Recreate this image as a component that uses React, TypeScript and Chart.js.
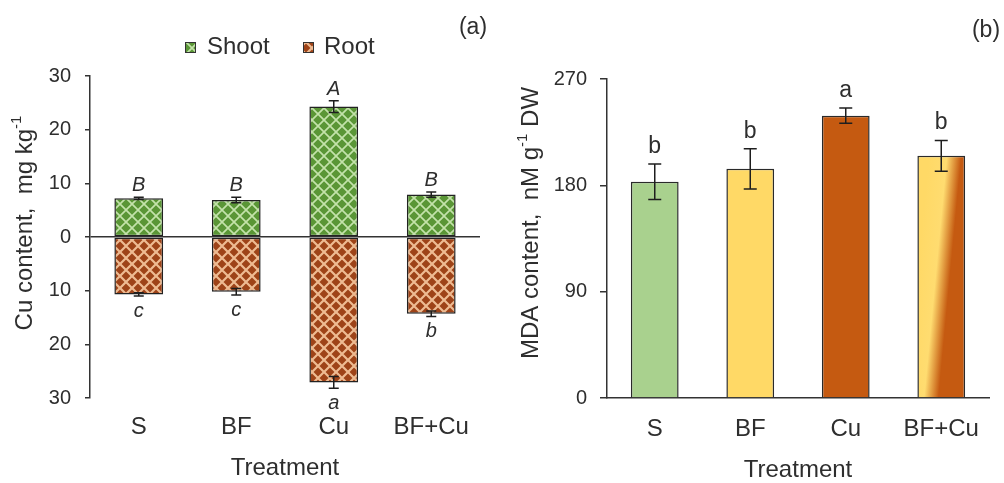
import React, { useEffect, useRef } from "react";
import { Chart, registerables } from "chart.js";
Chart.register(...registerables);

const FONT = '"Liberation Sans", Arial, Helvetica, sans-serif';
const TXT = "#2e2e2e";

// ---- Panel (a): Cu content ----
const treatments = ["S", "BF", "Cu", "BF+Cu"];
const shootCu = [7.2, 6.9, 24.3, 7.9];
const shootErr = [0.2, 0.5, 1.1, 0.5];
const rootCu = [10.7, 10.2, 27.1, 14.3];
const rootErr = [0.3, 0.6, 1.1, 0.5];
const shootLetters = ["B", "B", "A", "B"];
const rootLetters = ["c", "c", "a", "b"];
const legendLabels = ["Shoot", "Root"];
const leftTitle = ["Cu content,  mg kg", "-1", ""];

// ---- Panel (b): MDA content ----
const mdaValues = [183, 194, 239, 205];
const mdaErr = [15, 17, 6.5, 13];
const mdaLetters = ["b", "b", "a", "b"];
const mdaColors = ["#a9d18e", "#ffd966", "#c55a11", "#ffd966"];
const rightTitle = ["MDA content,  nM g", "-1", " DW"];

function makePattern(bg: string, line: string, size: number, lw: number) {
  const c = document.createElement("canvas");
  c.width = size;
  c.height = size;
  const g = c.getContext("2d")!;
  g.fillStyle = bg;
  g.fillRect(0, 0, size, size);
  g.strokeStyle = line;
  g.lineWidth = lw;
  for (const k of [-size, 0, size]) {
    g.beginPath();
    g.moveTo(k, 0);
    g.lineTo(k + size, size);
    g.moveTo(k + size, 0);
    g.lineTo(k, size);
    g.stroke();
  }
  return g.createPattern(c, "repeat")!;
}

function drawVTitle(ctx: CanvasRenderingContext2D, cx: number, cy: number, parts: string[], size: number) {
  const main = `${size}px ${FONT}`;
  const supSize = Math.round(size * 0.62);
  const sup = `${supSize}px ${FONT}`;
  ctx.save();
  ctx.font = main;
  const w0 = ctx.measureText(parts[0]).width;
  const w2 = ctx.measureText(parts[2]).width;
  ctx.font = sup;
  const w1 = ctx.measureText(parts[1]).width;
  const total = w0 + w1 + w2;
  ctx.translate(cx, cy);
  ctx.rotate(-Math.PI / 2);
  ctx.fillStyle = TXT;
  ctx.textBaseline = "middle";
  ctx.textAlign = "left";
  let x = -total / 2;
  ctx.font = main;
  ctx.fillText(parts[0], x, 0);
  x += w0;
  ctx.font = sup;
  ctx.fillText(parts[1], x, -size * 0.33);
  x += w1;
  ctx.font = main;
  ctx.fillText(parts[2], x, 0);
  ctx.restore();
}

function drawErr(ctx: CanvasRenderingContext2D, x: number, y1: number, y2: number, cap: number) {
  ctx.beginPath();
  ctx.moveTo(x, y1);
  ctx.lineTo(x, y2);
  ctx.moveTo(x - cap / 2, y1);
  ctx.lineTo(x + cap / 2, y1);
  ctx.moveTo(x - cap / 2, y2);
  ctx.lineTo(x + cap / 2, y2);
  ctx.stroke();
}

export default function App() {
  const leftRef = useRef<HTMLCanvasElement>(null);
  const rightRef = useRef<HTMLCanvasElement>(null);

  useEffect(() => {
    const shootPat = makePattern("#5a9636", "#c3e2aa", 12, 1.7);
    const rootPat = makePattern("#9e4318", "#eebb92", 12, 2.2);

    const leftDecor = {
      id: "leftDecor",
      afterDatasetsDraw(chart: any) {
        const ctx = chart.ctx as CanvasRenderingContext2D;
        const ys = chart.scales.y;
        ctx.save();
        ctx.strokeStyle = "#1e1e1e";
        ctx.lineWidth = 1.5;
        const m0 = chart.getDatasetMeta(0);
        const m1 = chart.getDatasetMeta(1);
        ctx.fillStyle = TXT;
        ctx.textAlign = "center";
        ctx.font = `italic 20px ${FONT}`;
        treatments.forEach((_, i) => {
          const x = m0.data[i].x;
          const top = ys.getPixelForValue(shootCu[i] + shootErr[i]);
          drawErr(ctx, x, top, ys.getPixelForValue(shootCu[i] - shootErr[i]), 10);
          ctx.textBaseline = "alphabetic";
          ctx.fillText(shootLetters[i], x, top - 6);
          const xr = m1.data[i].x;
          const bot = ys.getPixelForValue(-rootCu[i] - rootErr[i]);
          drawErr(ctx, xr, ys.getPixelForValue(-rootCu[i] + rootErr[i]), bot, 10);
          ctx.fillText(rootLetters[i], xr, bot + 21);
        });
        // legend
        const items = [
          { box: 185, text: 207, pat: shootPat, label: legendLabels[0] },
          { box: 303, text: 324, pat: rootPat, label: legendLabels[1] },
        ];
        items.forEach((it) => {
          ctx.fillStyle = it.pat;
          ctx.fillRect(it.box, 42, 10, 10);
          ctx.lineWidth = 1;
          ctx.strokeStyle = "#333";
          ctx.strokeRect(it.box + 0.5, 42.5, 10, 10);
          ctx.fillStyle = TXT;
          ctx.font = `24px ${FONT}`;
          ctx.textAlign = "left";
          ctx.textBaseline = "middle";
          ctx.fillText(it.label, it.text, 47);
        });
        ctx.font = `23px ${FONT}`;
        ctx.textAlign = "center";
        ctx.textBaseline = "middle";
        ctx.fillText("(a)", 473, 28);
        ctx.restore();
        drawVTitle(ctx, 25, 223, leftTitle, 24);
      },
    };

    const rightDecor = {
      id: "rightDecor",
      afterDatasetsDraw(chart: any) {
        const ctx = chart.ctx as CanvasRenderingContext2D;
        const ys = chart.scales.y;
        const m = chart.getDatasetMeta(0);
        ctx.save();
        ctx.strokeStyle = "#1e1e1e";
        ctx.lineWidth = 1.5;
        ctx.fillStyle = TXT;
        ctx.textAlign = "center";
        ctx.textBaseline = "alphabetic";
        ctx.font = `23px ${FONT}`;
        mdaValues.forEach((v, i) => {
          const x = m.data[i].x;
          const top = ys.getPixelForValue(v + mdaErr[i]);
          drawErr(ctx, x, top, ys.getPixelForValue(v - mdaErr[i]), 13);
          ctx.fillText(mdaLetters[i], x, top - 11);
        });
        ctx.font = `23px ${FONT}`;
        ctx.textBaseline = "middle";
        ctx.fillText("(b)", 486, 31);
        ctx.restore();
        drawVTitle(ctx, 31, 223, rightTitle, 24);
      },
    };

    const tickFont = { family: FONT, size: 20 };
    const catFont = { family: FONT, size: 24 };

    const c1 = new Chart(leftRef.current!, {
      type: "bar",
      data: {
        labels: treatments,
        datasets: [
          {
            label: legendLabels[0],
            data: shootCu,
            backgroundColor: shootPat,
            borderColor: "#222",
            borderWidth: 1.5,
            borderSkipped: false,
            categoryPercentage: 0.5,
            barPercentage: 1,
          },
          {
            label: legendLabels[1],
            data: rootCu.map((v) => -v),
            backgroundColor: rootPat,
            borderColor: "#222",
            borderWidth: 1.5,
            borderSkipped: false,
            categoryPercentage: 0.5,
            barPercentage: 1,
          },
        ],
      },
      options: {
        animation: false,
        responsive: false,
        layout: { padding: { left: 0, right: 20, top: 76, bottom: 0 } },
        plugins: { legend: { display: false }, tooltip: { enabled: false } },
        scales: {
          x: {
            stacked: true,
            grid: { display: false, drawTicks: false },
            border: { display: false },
            ticks: { font: catFont, color: TXT, padding: 15, maxRotation: 0, autoSkip: false },
            title: { display: true, text: "Treatment", font: catFont, color: TXT, padding: 0 },
            afterFit: (s: any) => {
              s.height = 85;
            },
          },
          y: {
            stacked: true,
            min: -30,
            max: 30,
            ticks: {
              stepSize: 10,
              font: tickFont,
              color: TXT,
              padding: 14,
              callback: (v: any) => String(Math.abs(Number(v))),
            },
            grid: {
              color: (c: any) => (c.tick && c.tick.value === 0 ? "#333" : "rgba(0,0,0,0)"),
              lineWidth: 1.5,
              tickLength: 5,
              tickColor: "#333",
            },
            border: { color: "#333", width: 1.5 },
            afterFit: (s: any) => {
              s.width = 90;
            },
          },
        },
      },
      plugins: [leftDecor],
    } as any);

    const c2 = new Chart(rightRef.current!, {
      type: "bar",
      data: {
        labels: treatments,
        datasets: [
          {
            label: "MDA",
            data: mdaValues,
            backgroundColor: (c: any) => {
              const i = c.dataIndex;
              if (i !== 3) return mdaColors[i];
              const chart = c.chart;
              const xs = chart.scales.x;
              const ys = chart.scales.y;
              if (!xs || !ys || !chart.chartArea) return mdaColors[i];
              const cx = xs.getPixelForValue(i);
              const cy = (ys.getPixelForValue(mdaValues[i]) + ys.getPixelForValue(0)) / 2;
              const dx = 24 * 0.9955;
              const dy = 24 * 0.094;
              const g = chart.ctx.createLinearGradient(cx - dx, cy - dy, cx + dx, cy + dy);
              g.addColorStop(0, "#ffd966");
              g.addColorStop(0.38, "#ffdc70");
              g.addColorStop(0.68, "#c55a11");
              g.addColorStop(1, "#c55a11");
              return g;
            },
            borderColor: "#2a2a2a",
            borderWidth: 1.5,
            categoryPercentage: 0.5,
            barPercentage: 1,
          },
        ],
      },
      options: {
        animation: false,
        responsive: false,
        layout: { padding: { left: 0, right: 15, top: 79, bottom: 0 } },
        plugins: { legend: { display: false }, tooltip: { enabled: false } },
        scales: {
          x: {
            grid: { display: false, drawTicks: false },
            border: { display: true, color: "#333", width: 1.5 },
            ticks: { font: catFont, color: TXT, padding: 17, maxRotation: 0, autoSkip: false },
            title: { display: true, text: "Treatment", font: catFont, color: TXT, padding: { top: 0, bottom: -2 } },
            afterFit: (s: any) => {
              s.height = 85;
            },
          },
          y: {
            min: 0,
            max: 270,
            ticks: { stepSize: 90, font: tickFont, color: TXT, padding: 13 },
            grid: { drawOnChartArea: false, tickLength: 7, color: "#333", lineWidth: 1.5 },
            border: { color: "#333", width: 1.5 },
            afterFit: (s: any) => {
              s.width = 107;
            },
          },
        },
      },
      plugins: [rightDecor],
    } as any);

    return () => {
      c1.destroy();
      c2.destroy();
    };
  }, []);

  return (
    <div style={{ position: "fixed", left: 0, top: 0, width: 1004, height: 483, background: "#fff" }}>
      <canvas ref={leftRef} width={500} height={483} style={{ position: "absolute", left: 0, top: 0 }} />
      <canvas ref={rightRef} width={504} height={483} style={{ position: "absolute", left: 500, top: 0 }} />
    </div>
  );
}
